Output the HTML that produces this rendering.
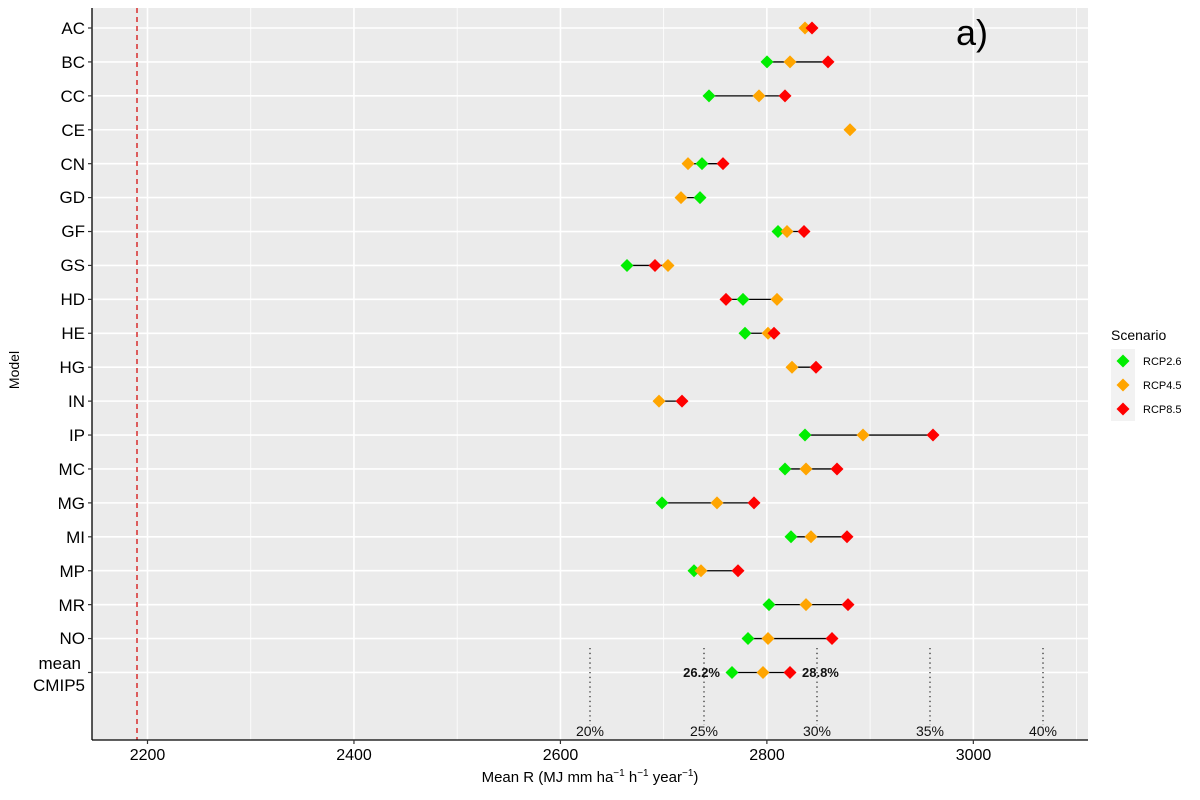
<!DOCTYPE html>
<html><head><meta charset="utf-8"><style>
html,body{margin:0;padding:0;background:#fff}
svg{display:block;font-family:"Liberation Sans",Arial,sans-serif}
</style></head><body>
<svg id="s" width="1200" height="800" viewBox="0 0 1200 800">
<rect x="92" y="8" width="996" height="732" fill="#ebebeb"/>
<g id="grid"></g>
<line x1="137" y1="8" x2="137" y2="740" stroke="#d62020" stroke-width="1.4" stroke-dasharray="5,4"/>
<g stroke="#333" stroke-width="1.3" stroke-dasharray="1.3,3.5">
<line x1="590" y1="648" x2="590" y2="725"/><line x1="704" y1="648" x2="704" y2="725"/><line x1="817" y1="648" x2="817" y2="725"/><line x1="930" y1="648" x2="930" y2="725"/><line x1="1043" y1="648" x2="1043" y2="725"/>
</g>
<g font-size="14" fill="#111" text-anchor="middle">
<text x="590" y="736">20%</text><text x="704" y="736">25%</text><text x="817" y="736">30%</text><text x="930" y="736">35%</text><text x="1043" y="736">40%</text>
</g>
<g id="data"></g>
<g font-size="13" font-weight="bold" fill="#111">
<text x="720" y="677" text-anchor="end">26.2%</text><text x="802" y="677">28.8%</text>
</g>
<text x="956" y="45" font-size="36" fill="#000">a)</text>
<line x1="92" y1="8" x2="92" y2="740" stroke="#000" stroke-width="1.3"/>
<line x1="92" y1="740" x2="1088" y2="740" stroke="#000" stroke-width="1.3"/>
<g id="ticks" stroke="#333" stroke-width="1.2"></g>
<g font-size="17" fill="#000" text-anchor="end">
<text x="85" y="34">AC</text><text x="85" y="68">BC</text><text x="85" y="102">CC</text><text x="85" y="136">CE</text><text x="85" y="170">CN</text><text x="85" y="203">GD</text><text x="85" y="237">GF</text><text x="85" y="271">GS</text><text x="85" y="305">HD</text><text x="85" y="339">HE</text><text x="85" y="373">HG</text><text x="85" y="407">IN</text><text x="85" y="441">IP</text><text x="85" y="475">MC</text><text x="85" y="509">MG</text><text x="85" y="543">MI</text><text x="85" y="577">MP</text><text x="85" y="611">MR</text><text x="85" y="644">NO</text><text x="81" y="669">mean</text><text x="85" y="691">CMIP5</text>
</g>
<g font-size="16" fill="#000" text-anchor="middle">
<text x="147.5" y="760">2200</text><text x="354" y="760">2400</text><text x="560.5" y="760">2600</text><text x="767" y="760">2800</text><text x="973.5" y="760">3000</text>
</g>
<text x="590" y="782" font-size="15" text-anchor="middle">Mean R (MJ mm ha<tspan dy="-6" font-size="10">−1</tspan><tspan dy="6"> h</tspan><tspan dy="-6" font-size="10">−1</tspan><tspan dy="6"> year</tspan><tspan dy="-6" font-size="10">−1</tspan><tspan dy="6">)</tspan></text>
<text transform="translate(19,370) rotate(-90)" font-size="14" text-anchor="middle">Model</text>
<text x="1111" y="340" font-size="14">Scenario</text>
<rect x="1111" y="349" width="24" height="72" fill="#f2f2f2"/>
<g font-size="11"><text x="1143" y="365">RCP2.6</text><text x="1143" y="389">RCP4.5</text><text x="1143" y="413">RCP8.5</text></g>
<g id="leg"></g>
</svg>
<script>
var NS="http://www.w3.org/2000/svg";
function el(p,t,a){var e=document.createElementNS(NS,t);for(var k in a)e.setAttribute(k,a[k]);document.getElementById(p).appendChild(e);return e;}
function X(v){return 147.5+(v-2200)*1.0323;}
function Y(i){return 28+i*33.92;}
for(var v=2200;v<=3100;v+=100){var x=X(v);el('grid','line',{x1:x,x2:x,y1:8,y2:740,stroke:'#fff','stroke-width':(v%200==0)?1.6:0.8});}
for(var i=0;i<20;i++){el('grid','line',{x1:92,x2:1088,y1:Y(i),y2:Y(i),stroke:'#fff','stroke-width':1.6});el('ticks','line',{x1:88,x2:92,y1:Y(i),y2:Y(i)});}
for(var v=2200;v<=3000;v+=200){var x=X(v);el('ticks','line',{x1:x,x2:x,y1:740,y2:744});}
var d=[[null,805,812],[767,790,828],[709,759,785],[null,850,null],[702,688,723],[700,681,null],[778,787,804],[627,668,655],[743,777,726],[745,768,774],[null,792,816],[null,659,682],[805,863,933],[785,806,837],[662,717,754],[791,811,847],[694,701,738],[769,806,848],[748,768,832],[732,763,790]];
var c=['#00ee00','#ffa500','#ff0000'];
function dia(p,x,y,col,r){el(p,'polygon',{points:(x-r)+','+y+' '+x+','+(y-r)+' '+(x+r)+','+y+' '+x+','+(y+r),fill:col});}
d.forEach(function(r,i){var xs=r.filter(function(a){return a!=null});var y=Y(i);
if(xs.length>1)el('data','line',{x1:Math.min.apply(0,xs),x2:Math.max.apply(0,xs),y1:y,y2:y,stroke:'#000','stroke-width':1.3});
r.forEach(function(x,k){if(x!=null)dia('data',x,y,c[k],6.5);});});
[361,385,409].forEach(function(y,k){dia('leg',1123,y,c[k],6.5);});
</script>
</body></html>
